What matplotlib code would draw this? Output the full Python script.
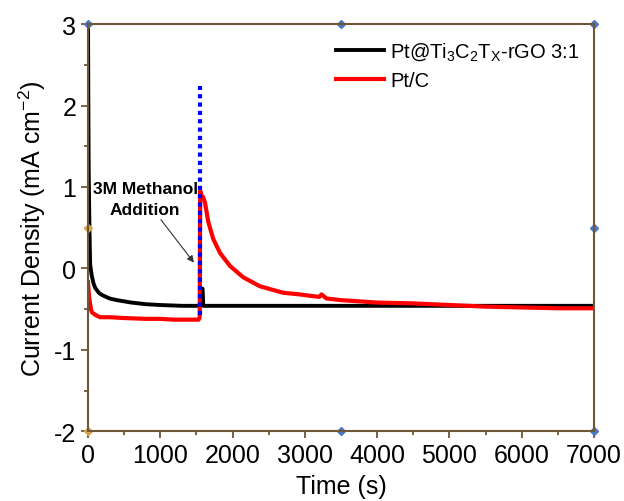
import numpy as np
import matplotlib
matplotlib.use("Agg")
import matplotlib.pyplot as plt
from matplotlib.ticker import MultipleLocator

plt.rcParams['font.family'] = ['Liberation Sans', 'DejaVu Sans']
plt.rcParams['mathtext.fontset'] = 'custom'
plt.rcParams['mathtext.rm'] = 'Liberation Sans'
plt.rcParams['mathtext.it'] = 'Liberation Sans'
plt.rcParams['axes.unicode_minus'] = False

# chronoamperometry, Pt@Ti3C2Tx-rGO 3:1
t_mx = [0, 5, 10, 20, 30, 50, 75, 100, 150, 200, 300, 400, 600, 800, 1000,
        1300, 1540, 1560, 1570, 1585, 1595, 1700, 2000, 3000, 4000, 5000,
        6000, 7000]
j_mx = [3.2, 2.0, 1.2, 0.5, 0.05, -0.08, -0.18, -0.24, -0.30, -0.33, -0.37,
        -0.39, -0.42, -0.44, -0.45, -0.46, -0.46, -0.46, -0.25, -0.25, -0.46,
        -0.46, -0.46, -0.46, -0.46, -0.46, -0.46, -0.46]

# chronoamperometry, Pt/C
t_ptc = [0, 15, 40, 55, 100, 166, 300, 500, 800, 1000, 1200, 1400, 1530,
         1545, 1552, 1560, 1575, 1590, 1618, 1664, 1733, 1826, 1964, 2148,
         2379, 2702, 2932, 3100, 3200, 3230, 3300, 3500, 4000, 4500, 5000,
         5500, 6000, 6500, 7000]
j_ptc = [-0.17, -0.35, -0.50, -0.54, -0.57, -0.60, -0.60, -0.61, -0.62,
         -0.62, -0.63, -0.63, -0.63, -0.60, 0.95, 0.93, 0.86, 0.88, 0.81,
         0.57, 0.36, 0.19, 0.03, -0.11, -0.22, -0.30, -0.32, -0.34, -0.35,
         -0.32, -0.37, -0.39, -0.42, -0.43, -0.45, -0.47, -0.48, -0.49, -0.49]

t_add = 1549
add_span = (-0.57, 2.24)

spine_col = '#6f5637'

fig = plt.figure(figsize=(6.24, 5.02), dpi=100)
ax = fig.add_axes([0.141, 0.139, 0.811, 0.811])

ax.plot(t_mx, j_mx, color='black', lw=2.8, label=r'Pt@Ti$_3$C$_2$T$_X$-rGO 3:1')
ax.plot(t_ptc, j_ptc, color='red', lw=3.0, label='Pt/C')
ax.plot([t_add, t_add], add_span, color='blue', lw=3, ls=(0, (1, 1)))

ax.annotate('3M Methanol\nAddition', xy=(1466, 0.07), xytext=(790, 0.85),
            ha='center', va='center', fontsize=12.5, fontweight='bold',
            linespacing=1.45,
            arrowprops=dict(arrowstyle='-|>', color='#333333', lw=0.8,
                            shrinkA=0, shrinkB=0, mutation_scale=10))

ax.set_xlim(0, 7000)
ax.set_ylim(-2, 3)
ax.xaxis.set_major_locator(MultipleLocator(1000))
ax.xaxis.set_minor_locator(MultipleLocator(500))
ax.yaxis.set_major_locator(MultipleLocator(1))
ax.yaxis.set_minor_locator(MultipleLocator(0.5))
ax.tick_params(which='both', direction='out', colors=spine_col,
               labelcolor='black', labelsize=18, width=1.3)
ax.tick_params(which='major', length=5)
ax.tick_params(which='minor', length=3)
for s in ax.spines.values():
    s.set_color(spine_col)
    s.set_linewidth(1.5)

ax.set_xlabel('Time (s)', fontsize=18, labelpad=5)
ax.set_ylabel('Current Density (mA cm$^{-2}$)', fontsize=18, labelpad=4)

ax.legend(loc='upper right', frameon=False, fontsize=14.5, handlelength=2.4,
          handletextpad=0.3, borderaxespad=0.2, labelspacing=0.45,
          bbox_to_anchor=(0.995, 0.99))

# small selection handles around the frame
hx = [0, 3500, 7000, 7000, 3500, 7000]
hy = [3, 3, 3, 0.5, -2, -2]
ax.plot(hx, hy, ls='', marker='D', ms=4, color='#4a78c8', clip_on=False)
ax.plot([0, 0], [0.5, -2], ls='', marker='D', ms=4, color='#d9a54a',
        clip_on=False)

fig.savefig('out.png', dpi=100)
